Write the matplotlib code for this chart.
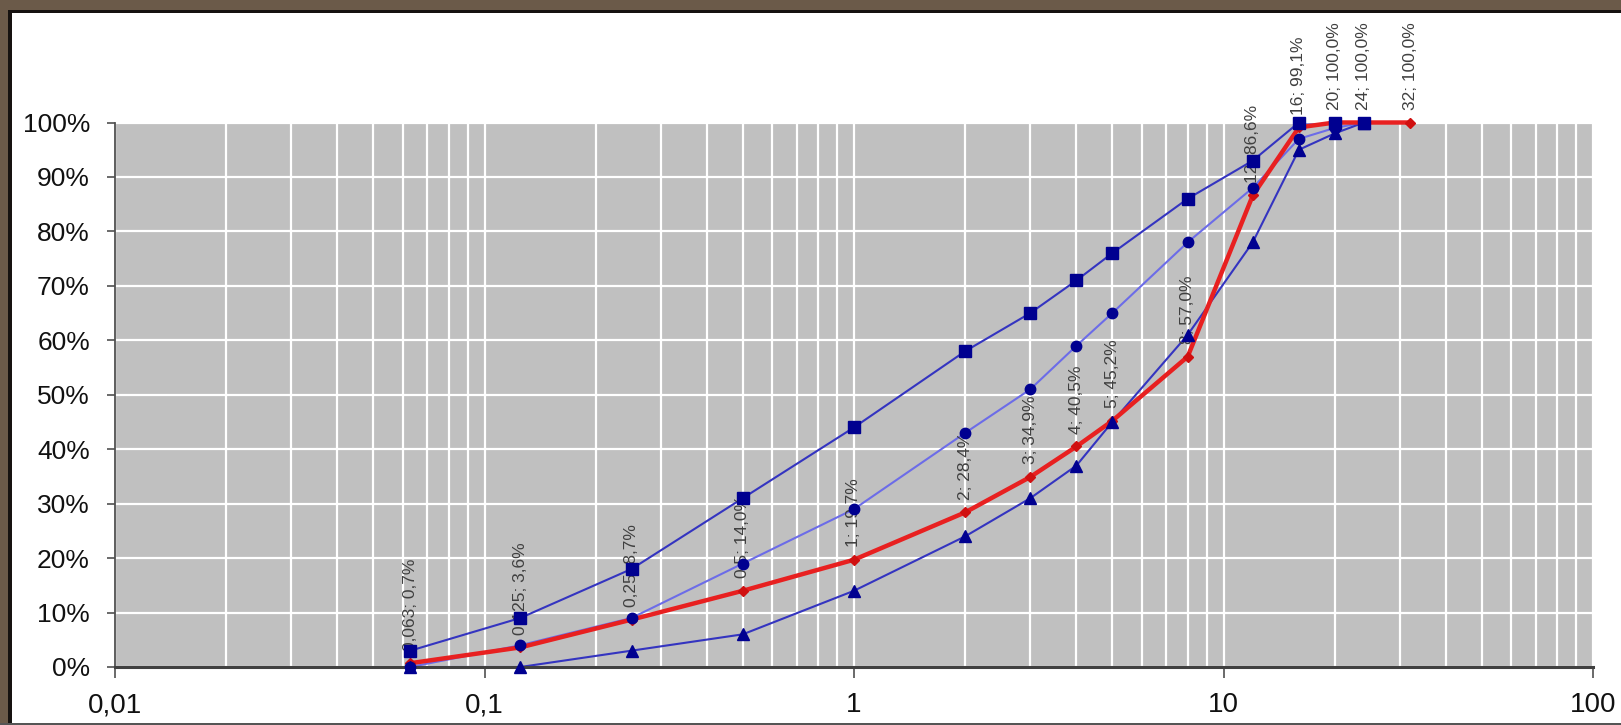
import matplotlib
matplotlib.use("Agg")
import matplotlib.pyplot as plt
from matplotlib.patches import Rectangle
from matplotlib.ticker import FixedLocator, FuncFormatter, LogLocator, NullFormatter

# Sieve sizes (mm) and cumulative passing (%)
sizes = [0.063, 0.125, 0.25, 0.5, 1, 2, 3, 4, 5, 8, 12, 16, 20, 24, 32]
mix_passing = [0.7, 3.6, 8.7, 14.0, 19.7, 28.4, 34.9, 40.5, 45.2, 57.0, 86.6, 99.1, 100.0, 100.0, 100.0]

limit_sizes = [0.063, 0.125, 0.25, 0.5, 1, 2, 3, 4, 5, 8, 12, 16, 20, 24]
upper_limit = [3, 9, 18, 31, 44, 58, 65, 71, 76, 86, 93, 100, 100, 100]
middle_curve = [0, 4, 9, 19, 29, 43, 51, 59, 65, 78, 88, 97, 99, 100]
lower_limit = [0, 0, 3, 6, 14, 24, 31, 37, 45, 61, 78, 95, 98, 100]

x_ticks = [0.01, 0.1, 1, 10, 100]
x_tick_labels = ["0,01", "0,1", "1", "10", "100"]
y_ticks = [0, 10, 20, 30, 40, 50, 60, 70, 80, 90, 100]

W, H = 1621, 725
fig = plt.figure(figsize=(W / 100, H / 100), dpi=100)
fig.patch.set_facecolor("white")
plt.rcParams["font.family"] = ["Liberation Sans", "DejaVu Sans"]

ax = fig.add_axes([115 / W, 1 - 667 / H, (1593 - 115) / W, (667 - 122.5) / H])
ax.set_facecolor("#c0c0c0")
ax.set_xscale("log")
ax.set_xlim(0.01, 100)
ax.set_ylim(0, 100)

# white grid on grey plot area
ax.xaxis.set_major_locator(FixedLocator(x_ticks))
ax.xaxis.set_minor_locator(LogLocator(base=10, subs=range(2, 10), numticks=20))
ax.xaxis.set_minor_formatter(NullFormatter())
ax.set_xticklabels(x_tick_labels)
ax.set_yticks(y_ticks)
ax.yaxis.set_major_formatter(FuncFormatter(lambda v, p: f"{v:.0f}%"))
ax.grid(True, which="both", axis="x", color="white", lw=1.6)
ax.grid(True, which="major", axis="y", color="white", lw=1.6)
ax.set_axisbelow(True)

for side in ("top", "right"):
    ax.spines[side].set_visible(False)
ax.spines["left"].set_color("#505050")
ax.spines["left"].set_linewidth(1.3)
ax.spines["bottom"].set_color("#404040")
ax.spines["bottom"].set_linewidth(2.2)

ax.tick_params(axis="y", which="major", length=6, width=1.2, color="#505050",
               labelsize=19, pad=12, labelcolor="#111111")
ax.tick_params(axis="x", which="major", length=8, width=1.2, color="#505050",
               labelsize=20, pad=10, labelcolor="#111111")
ax.tick_params(axis="x", which="minor", length=0)

# grading envelope lines (markers drawn separately on top)
ax.plot(limit_sizes, upper_limit, color="#3434c0", lw=1.5, zorder=2.5)
ax.plot(limit_sizes, middle_curve, color="#6c6ce8", lw=1.5, zorder=2.5)
ax.plot(limit_sizes, lower_limit, color="#3434c0", lw=1.5, zorder=2.5)

# actual mix curve
ax.plot(sizes, mix_passing, color="#e82020", lw=3.2, marker="D", ms=5,
        mfc="#d01010", mec="#d01010", zorder=3, clip_on=False)


def fmt_num(v):
    s = f"{v:g}"
    return s.replace(".", ",")


for x, y in zip(sizes, mix_passing):
    txt = f"{fmt_num(x)}; {y:.1f}%".replace(".", ",")
    ax.annotate(txt, (x, y), xytext=(0, 9), textcoords="offset points",
                rotation=90, ha="center", va="bottom", fontsize=12.5,
                color="#404040", zorder=3.5, annotation_clip=False)

ax.plot(limit_sizes, upper_limit, ls="none", marker="s", ms=8,
        mfc="#000090", mec="#000090", zorder=4, clip_on=False)
ax.plot(limit_sizes, middle_curve, ls="none", marker="o", ms=7.5,
        mfc="#000090", mec="#000090", zorder=4, clip_on=False)
ax.plot(limit_sizes, lower_limit, ls="none", marker="^", ms=8,
        mfc="#000090", mec="#000090", zorder=4, clip_on=False)

# picture frame around the chart
frame_top = Rectangle((0, 1 - 10 / H), 1, 10 / H, transform=fig.transFigure,
                      facecolor="#6b5a49", edgecolor="none", zorder=10)
frame_top_in = Rectangle((8 / W, 1 - 13 / H), 1, 3 / H, transform=fig.transFigure,
                         facecolor="#161210", edgecolor="none", zorder=10)
frame_left = Rectangle((0, 0), 8 / W, 1, transform=fig.transFigure,
                       facecolor="#6b5a49", edgecolor="none", zorder=10)
frame_left_in = Rectangle((8 / W, 0), 4 / W, 1 - 10 / H, transform=fig.transFigure,
                          facecolor="#161210", edgecolor="none", zorder=10)
frame_bottom = Rectangle((0, 0), 1, 2 / H, transform=fig.transFigure,
                         facecolor="#555555", edgecolor="none", zorder=10)
for p in (frame_top, frame_top_in, frame_left, frame_left_in, frame_bottom):
    fig.patches.append(p)

fig.savefig("out.png", dpi=100)
